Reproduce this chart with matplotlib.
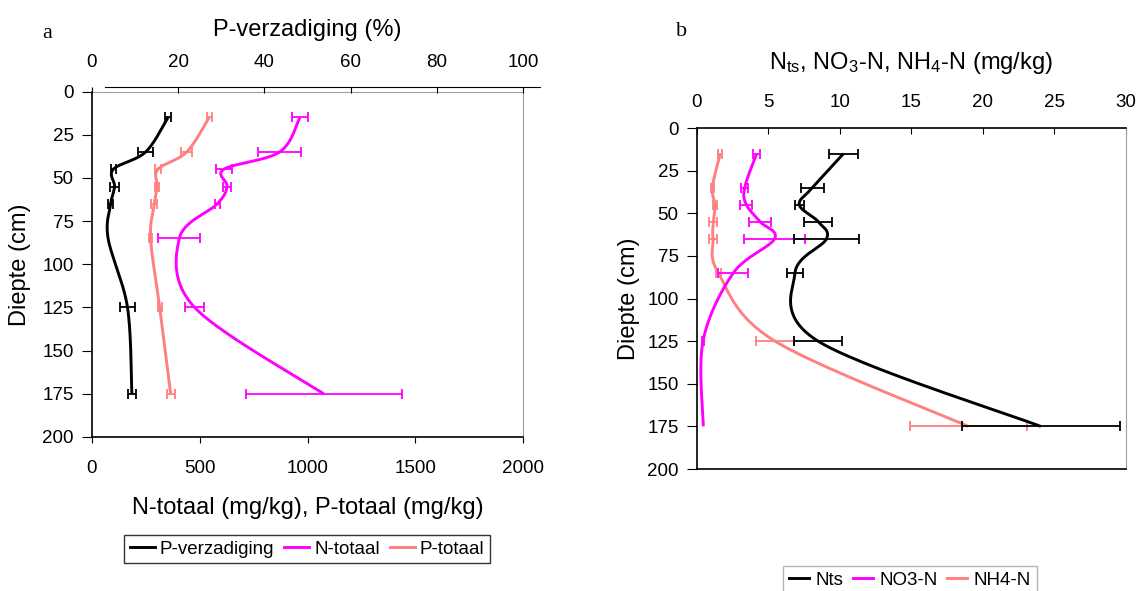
import numpy as np
import matplotlib
matplotlib.use('Agg')
import matplotlib.pyplot as plt
from matplotlib.lines import Line2D

plt.rcParams['font.family'] = ['Liberation Sans', 'DejaVu Sans']
plt.rcParams['mathtext.fontset'] = 'custom'
plt.rcParams['mathtext.rm'] = 'Liberation Sans'
plt.rcParams['mathtext.it'] = 'Liberation Sans'

# depths (cm)
diepte = [15, 35, 45, 55, 65, 85, 125, 175]

# panel a
p_verz = [17.7, 12.5, 5.0, 5.3, 4.4, 3.8, 8.3, 9.3]          # %
p_verz_err = [0.6, 1.7, 0.6, 1.1, 0.6, 0.0, 1.7, 0.9]
n_tot = [965, 871, 612, 627, 582, 406, 477, 1075]             # mg/kg
n_tot_err = [39, 99, 36, 20, 12, 98, 45, 361]
p_tot = [545, 440, 307, 303, 290, 273, 315, 366]              # mg/kg
p_tot_err = [12, 26, 14, 11, 13, 6, 10, 18]

# panel b
nts = [10.26, 8.09, 7.17, 8.50, 9.07, 6.87, 8.48, 24.04]
nts_err = [0.99, 0.83, 0.30, 0.98, 2.29, 0.56, 1.70, 5.53]
no3 = [4.19, 3.35, 3.47, 4.43, 5.44, 2.56, 0.44, 0.46]
no3_err = [0.23, 0.26, 0.42, 0.76, 2.15, 1.05, 0.10, 0.0]
nh4 = [1.65, 1.09, 1.28, 1.16, 1.14, 1.51, 5.47, 18.98]
nh4_err = [0.14, 0.12, 0.16, 0.28, 0.26, 0.17, 1.35, 4.08]

BLACK = '#000000'
MAGENTA = '#FF00FF'
SALMON = '#FF8080'
GRAY = '#A0A0A0'


def smooth(x, y, sx, sy, n=30):
    # Excel-like smoothed line: bezier with catmull-rom control points
    P = np.column_stack([np.asarray(x, float) * sx, np.asarray(y, float) * sy])
    out = []
    t = np.linspace(0, 1, n)[:, None]
    for i in range(len(P) - 1):
        p0 = P[i - 1] if i > 0 else P[i]
        p1, p2 = P[i], P[i + 1]
        p3 = P[i + 2] if i + 2 < len(P) else P[i + 1]
        c1 = p1 + (p2 - p0) / 6
        c2 = p2 - (p3 - p1) / 6
        seg = ((1 - t) ** 3) * p1 + 3 * ((1 - t) ** 2) * t * c1 + 3 * (1 - t) * t ** 2 * c2 + t ** 3 * p2
        out.append(seg)
    out = np.vstack(out)
    return out[:, 0] / sx, out[:, 1] / sy


def draw(ax, x, err, color, sx, sy):
    xs, ys = smooth(x, diepte, sx, sy)
    ax.plot(xs, ys, color=color, lw=2.1, solid_capstyle='butt')
    x = np.array(x)
    err = np.array(err)
    d = np.array(diepte)
    m = err > 0
    ax.errorbar(x[m], d[m], xerr=err[m], fmt='none', ecolor=color,
                elinewidth=1.3, capsize=3.3, capthick=1.3)


fig = plt.figure(figsize=(11.36, 5.91), dpi=100)

# ---------------- panel a ----------------
axa = fig.add_axes([0.0807, 0.2606, 0.3800, 0.5845])
axa.set_xlim(0, 2000)
axa.set_ylim(200, 0)
axa.set_xticks([0, 500, 1000, 1500, 2000])
axa.set_yticks(range(0, 201, 25))
for s in ['top', 'right']:
    axa.spines[s].set_color(GRAY)
axa.spines['left'].set_linewidth(1.2)
axa.spines['bottom'].set_linewidth(1.2)
axa.tick_params(axis='both', labelsize=13.5)
axa.tick_params(axis='x', direction='out', length=4, pad=12.5)
axa.tick_params(axis='y', direction='out', length=7, pad=6)
axa.set_xlabel('N-totaal (mg/kg), P-totaal (mg/kg)', fontsize=17, labelpad=14.5)
axa.set_ylabel('Diepte (cm)', fontsize=17, labelpad=8)

axa2 = axa.twiny()
axa2.set_xlim(0, 100)
axa2.set_ylim(200, 0)
axa2.set_xticks([0, 20, 40, 60, 80, 100])
for s in ['left', 'right', 'bottom']:
    axa2.spines[s].set_visible(False)
axa2.spines['top'].set_position(('outward', 3))
axa2.spines['top'].set_bounds(3.1, 103.9)
axa2.tick_params(axis='x', direction='in', length=4, labelsize=13.5, pad=11.7)
axa2.set_xlabel('P-verzadiging (%)', fontsize=17, labelpad=13)

sx_a = 431.6 / 2000
sy_a = 345.4 / 200
draw(axa, n_tot, n_tot_err, MAGENTA, sx_a, sy_a)
draw(axa, p_tot, p_tot_err, SALMON, sx_a, sy_a)
draw(axa2, p_verz, p_verz_err, BLACK, 431.6 / 100, sy_a)

handles = [Line2D([], [], color=BLACK, lw=2.1),
           Line2D([], [], color=MAGENTA, lw=2.1),
           Line2D([], [], color=SALMON, lw=2.1)]
leg = fig.legend(handles, ['P-verzadiging', 'N-totaal', 'P-totaal'],
                 loc='center', bbox_to_anchor=(307 / 1136, 1 - 549 / 591),
                 ncol=3, fontsize=13.5, frameon=True, fancybox=False,
                 edgecolor='black', handlelength=1.33, handletextpad=0.27,
                 columnspacing=0.53, borderpad=0.3)
leg.get_frame().set_linewidth(1.0)

fig.text(47 / 1136, 1 - 33 / 591, 'a', fontsize=16, family='Liberation Serif',
         ha='center', va='center')

# ---------------- panel b ----------------
axb = fig.add_axes([0.6133, 0.2064, 0.3779, 0.5770])
axb.set_xlim(0, 30)
axb.set_ylim(200, 0)
axb.set_xticks(range(0, 31, 5))
axb.set_yticks(range(0, 201, 25))
axb.xaxis.tick_top()
axb.xaxis.set_label_position('top')
axb.spines['right'].set_color(GRAY)
axb.spines['left'].set_linewidth(1.2)
axb.spines['top'].set_linewidth(1.2)
axb.spines['bottom'].set_linewidth(1.2)
axb.tick_params(axis='both', labelsize=13.5)
axb.tick_params(axis='x', direction='in', length=4, pad=12)
axb.tick_params(axis='y', direction='out', length=7, pad=6)
axb.set_xlabel(r'N$_{\mathrm{ts}}$, NO$_3$-N, NH$_4$-N (mg/kg)', fontsize=17, labelpad=18.5)
axb.set_ylabel('Diepte (cm)', fontsize=17, labelpad=5)

sx_b = 429.3 / 30
sy_b = 341.0 / 200
draw(axb, nh4, nh4_err, SALMON, sx_b, sy_b)
draw(axb, no3, no3_err, MAGENTA, sx_b, sy_b)
draw(axb, nts, nts_err, BLACK, sx_b, sy_b)

leg_b = fig.legend(handles, ['Nts', 'NO3-N', 'NH4-N'],
                   loc='center', bbox_to_anchor=(910 / 1136, 1 - 580 / 591),
                   ncol=3, fontsize=13.5, frameon=True, fancybox=False,
                   edgecolor=GRAY, handlelength=1.07, handletextpad=0.35,
                   columnspacing=0.5, borderpad=0.3)
leg_b.get_frame().set_linewidth(1.0)

fig.text(682 / 1136, 1 - 32 / 591, 'b', fontsize=16, family='Liberation Serif',
         ha='center', va='center')

fig.savefig('out.png', dpi=100)
